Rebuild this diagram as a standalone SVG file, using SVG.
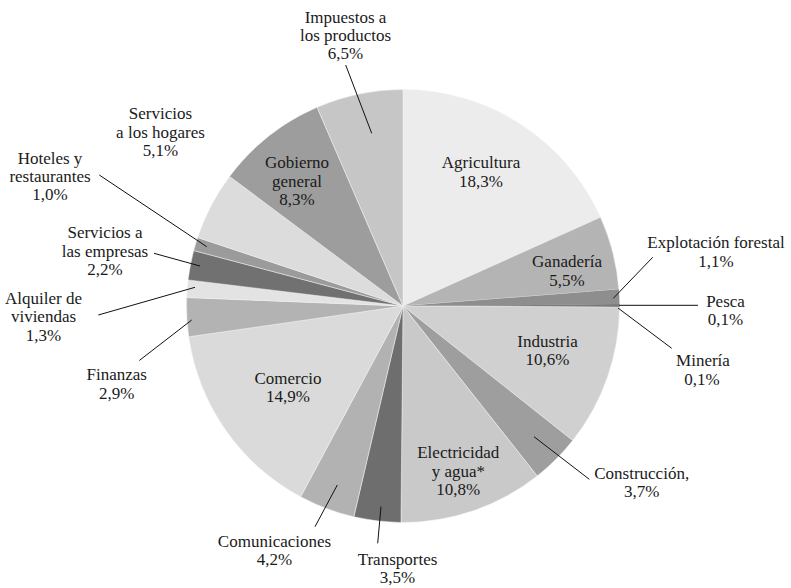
<svg xmlns="http://www.w3.org/2000/svg" width="791" height="588" viewBox="0 0 791 588">
<style>
.sl{stroke:#f2f2f2;stroke-width:0.5}
.t{font-family:'Liberation Serif','DejaVu Serif',serif;font-size:17px;fill:#1a1a1a;text-anchor:middle}
.ld{stroke:#111;stroke-width:1;fill:none}
</style>
<rect width="791" height="588" fill="#ffffff"/>
<g id="slices" font-family="Liberation Serif, DejaVu Serif, serif">
<g id="agricultura"><path class="sl" fill="#ececec" d="M403,306 L403,89.5 A216.5,216.5 0 0 1 600.49,217.28 Z"/><text class="t" x="481" y="168">Agricultura</text><text class="t" x="481" y="187">18,3%</text></g>
<g id="ganaderia"><path class="sl" fill="#b4b4b4" d="M403,306 L600.49,217.28 A216.5,216.5 0 0 1 618.86,289.35 Z"/><text class="t" x="567" y="266.5">Ganadería</text><text class="t" x="567" y="285.5">5,5%</text></g>
<g id="explotacion"><path fill="#8e8e8e" d="M403,306 L618.86,289.35 A216.5,216.5 0 0 1 619.49,304.3 Z"/><text class="t" x="716" y="248.3">Explotación forestal</text><text class="t" x="716" y="266.7">1,1%</text></g>
<g id="pesca"><path fill="#5a5a5a" d="M403,306 L619.49,304.3 A216.5,216.5 0 0 1 619.5,305.66 Z"/><text class="t" x="725.5" y="307.3">Pesca</text><text class="t" x="725.5" y="325">0,1%</text></g>
<g id="mineria"><path fill="#6a6a6a" d="M403,306 L619.5,305.66 A216.5,216.5 0 0 1 619.5,307.02 Z"/><text class="t" x="703" y="366">Minería</text><text class="t" x="702" y="385">0,1%</text></g>
<g id="industria"><path class="sl" fill="#d0d0d0" d="M403,306 L619.5,307.02 A216.5,216.5 0 0 1 572.69,440.45 Z"/><text class="t" x="547.5" y="346.7">Industria</text><text class="t" x="547.5" y="365">10,6%</text></g>
<g id="construccion"><path class="sl" fill="#9e9e9e" d="M403,306 L572.69,440.45 A216.5,216.5 0 0 1 537.16,475.92 Z"/><text class="t" x="641.7" y="479">Construcción,</text><text class="t" x="641.7" y="497.3">3,7%</text></g>
<g id="electricidad"><path class="sl" fill="#c9c9c9" d="M403,306 L537.16,475.92 A216.5,216.5 0 0 1 400.96,522.49 Z"/><text class="t" x="458.3" y="458.3">Electricidad</text><text class="t" x="458.3" y="477">y agua*</text><text class="t" x="458.3" y="495">10,8%</text></g>
<g id="transportes"><path class="sl" fill="#6e6e6e" d="M403,306 L400.96,522.49 A216.5,216.5 0 0 1 353.82,516.84 Z"/><text class="t" x="397.5" y="565">Transportes</text><text class="t" x="397.5" y="583.3">3,5%</text></g>
<g id="comunicaciones"><path class="sl" fill="#b2b2b2" d="M403,306 L353.82,516.84 A216.5,216.5 0 0 1 300.6,496.75 Z"/><text class="t" x="274.5" y="546.7">Comunicaciones</text><text class="t" x="274.5" y="565">4,2%</text></g>
<g id="comercio"><path class="sl" fill="#dadada" d="M403,306 L300.6,496.75 A216.5,216.5 0 0 1 188.7,336.8 Z"/><text class="t" x="288" y="384">Comercio</text><text class="t" x="288" y="402">14,9%</text></g>
<g id="finanzas"><path class="sl" fill="#b3b3b3" d="M403,306 L188.7,336.8 A216.5,216.5 0 0 1 186.67,297.5 Z"/><text class="t" x="116.7" y="380">Finanzas</text><text class="t" x="116.7" y="398.5">2,9%</text></g>
<g id="alquiler"><path class="sl" fill="#e3e3e3" d="M403,306 L186.67,297.5 A216.5,216.5 0 0 1 188.08,279.91 Z"/><text class="t" x="43.5" y="303.5">Alquiler de</text><text class="t" x="43.5" y="322">viviendas</text><text class="t" x="43.5" y="341">1,3%</text></g>
<g id="servicios-empresas"><path class="sl" fill="#717171" d="M403,306 L188.08,279.91 A216.5,216.5 0 0 1 193.72,250.55 Z"/><text class="t" x="105" y="238">Servicios a</text><text class="t" x="105" y="256.5">las empresas</text><text class="t" x="105" y="275">2,2%</text></g>
<g id="hoteles"><path class="sl" fill="#9b9b9b" d="M403,306 L193.72,250.55 A216.5,216.5 0 0 1 197.61,237.54 Z"/><text class="t" x="50" y="163.5">Hoteles y</text><text class="t" x="50" y="181.5">restaurantes</text><text class="t" x="50" y="200">1,0%</text></g>
<g id="servicios-hogares"><path class="sl" fill="#dcdcdc" d="M403,306 L197.61,237.54 A216.5,216.5 0 0 1 229.59,176.38 Z"/><text class="t" x="160.5" y="119.3">Servicios</text><text class="t" x="160.5" y="137.5">a los hogares</text><text class="t" x="160.5" y="156">5,1%</text></g>
<g id="gobierno"><path class="sl" fill="#9d9d9d" d="M403,306 L229.59,176.38 A216.5,216.5 0 0 1 317.09,107.27 Z"/><text class="t" x="297" y="168">Gobierno</text><text class="t" x="297" y="186.5">general</text><text class="t" x="297" y="205">8,3%</text></g>
<g id="impuestos"><path class="sl" fill="#c6c6c6" d="M403,306 L317.09,107.27 A216.5,216.5 0 0 1 403,89.5 Z"/><text class="t" x="345.5" y="22.5">Impuestos a</text><text class="t" x="345.5" y="40.5">los productos</text><text class="t" x="345.5" y="58.5">6,5%</text></g>
</g>
<g id="connectors">
<line class="ld" x1="345.7" y1="65" x2="371.7" y2="133.3"/>
<line class="ld" x1="99.3" y1="175" x2="206.7" y2="246.7"/>
<line class="ld" x1="154" y1="253.3" x2="200" y2="266"/>
<line class="ld" x1="98.3" y1="315" x2="195" y2="287.3"/>
<line class="ld" x1="139.3" y1="360.5" x2="191.7" y2="320"/>
<line class="ld" x1="315" y1="526.7" x2="337.3" y2="485"/>
<line class="ld" x1="377.7" y1="543.3" x2="381" y2="506.7"/>
<line class="ld" x1="534" y1="436.7" x2="589.3" y2="479.3"/>
<line class="ld" x1="613.3" y1="298.3" x2="652.7" y2="257.3"/>
<line class="ld" x1="619" y1="305.3" x2="698" y2="305.3"/>
<line class="ld" x1="618" y1="308" x2="671.7" y2="348.3"/>
</g>
</svg>
